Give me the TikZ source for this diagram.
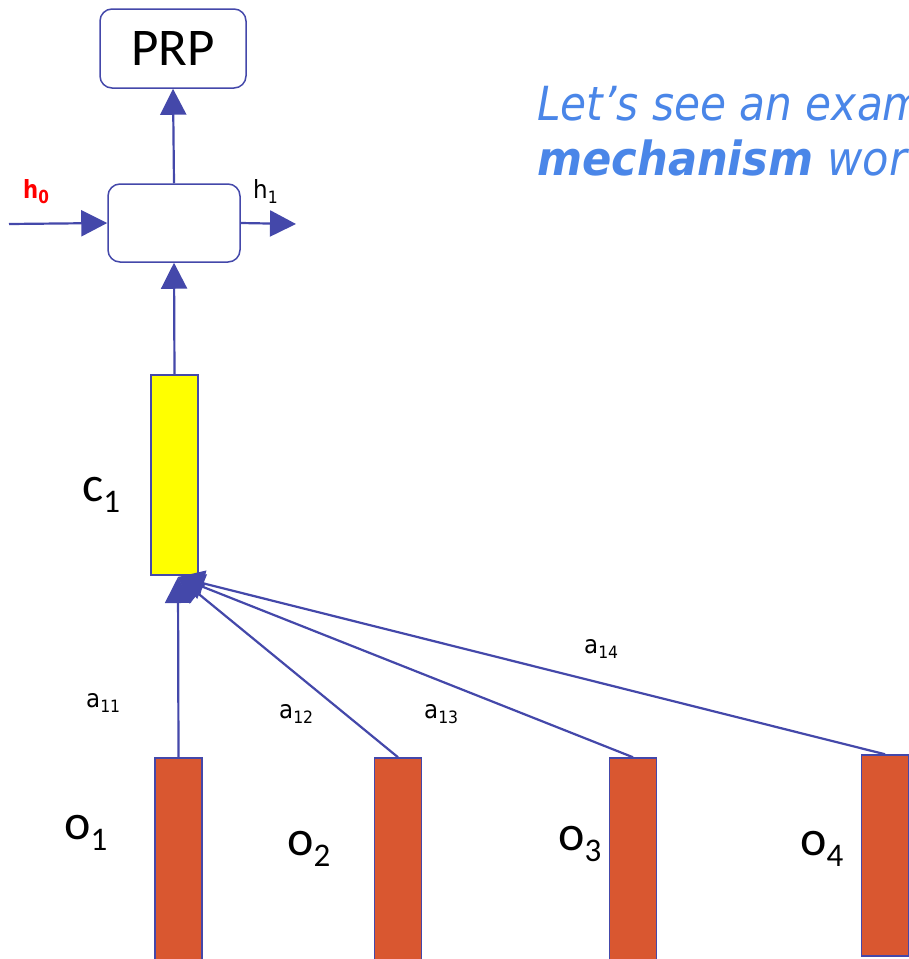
\documentclass[tikz,border=0pt]{standalone}
\usepackage{fontspec}
\usepackage{graphicx}
\setmainfont{DejaVu Sans}
\newfontfamily\calfont{Carlito}
\usetikzlibrary{arrows.meta}
\definecolor{lineblue}{RGB}{68,72,170}
\definecolor{titleblue}{RGB}{74,134,232}
\definecolor{obox}{RGB}{217,87,48}
\definecolor{hred}{RGB}{255,0,0}
\definecolor{cyellow}{RGB}{255,255,0}
\newcommand\biglab[2]{{\calfont\fontsize{50}{50}\selectfont #1\raisebox{-11pt}{\fontsize{33}{33}\selectfont #2}}}
\newcommand\smlab[2]{{\fontsize{25}{25}\selectfont\scalebox{0.92}[1]{#1\raisebox{-5pt}{\fontsize{17}{17}\selectfont #2}}}}
\begin{document}
\begin{tikzpicture}[x=1pt,y=-1pt,
  conn/.style={draw=lineblue, line width=2.2pt, -{Triangle[length=26pt,width=26pt]}},
  rbox/.style={draw=lineblue, line width=1.5pt, rounded corners=12pt, fill=white, inner sep=0pt},
  vecbox/.style={draw=lineblue, line width=1.5pt, inner sep=0pt, minimum width=47pt},
  lab/.style={inner sep=0pt, anchor=base west},
  titletext/.style={inner sep=0pt, anchor=base west, text=titleblue}]
\useasboundingbox (0,0) rectangle (909,959);
\clip (0,0) rectangle (909,959);
\fill[white] (0,0) rectangle (909,959);

% boxes
\node[rbox, minimum width=146pt, minimum height=79pt] (prp) at (173,48.5)
  {\calfont\fontsize{53}{53}\selectfont PRP};
\node[rbox, minimum width=132pt, minimum height=78pt] (cell) at (174,223) {};
\node[vecbox, fill=cyellow, minimum height=200pt] (c1) at (174.5,475) {};
\node[vecbox, fill=obox, minimum height=210pt] (o1) at (178.5,863) {};
\node[vecbox, fill=obox, minimum height=210pt] (o2) at (398,863) {};
\node[vecbox, fill=obox, minimum height=210pt] (o3) at (633,863) {};
\node[vecbox, fill=obox, minimum height=201pt] (o4) at (885,855.5) {};

% connectors
\coordinate (h0s) at (9,224);
\coordinate (h1e) at (296,224);
\coordinate (ctip) at (178,577);
\draw[conn] (cell.north) -- (prp.south);
\draw[conn] (c1.north) -- (cell.south);
\draw[conn] (h0s) -- (cell.west);
\draw[conn] (cell.east) -- (h1e);
\draw[conn] (o1.north) -- (ctip);
\draw[conn] (o2.north) -- (ctip);
\draw[conn] (o3.north) -- (ctip);
\draw[conn] (o4.north) -- (ctip);

% labels
\node[lab, text=hred] (h0) at (23,198)
  {\fontsize{25}{25}\selectfont\bfseries\scalebox{0.85}[1]{h\raisebox{-5pt}{\fontsize{18}{18}\selectfont 0}}};
\node[lab] (h1) at (253,198) {\smlab{h}{1}};
\node[lab] (c1l) at (82,501) {\biglab{c}{1}};
\node[lab] (o1l) at (64,839) {\biglab{o}{1}};
\node[lab] (o2l) at (287,855) {\biglab{o}{2}};
\node[lab] (o3l) at (558,850) {\biglab{o}{3}};
\node[lab] (o4l) at (800,855) {\biglab{o}{4}};
\node[lab] (a11) at (86,707) {\smlab{a}{11}};
\node[lab] (a12) at (279,718) {\smlab{a}{12}};
\node[lab] (a13) at (424,718) {\smlab{a}{13}};
\node[lab] (a14) at (584,653) {\smlab{a}{14}};

% title
\node[titletext] (t1) at (537,120)
  {\fontsize{47}{47}\selectfont\itshape\scalebox{0.9}[1]{Let’s see an exam}};
\node[titletext] (t2) at (537,175)
  {\fontsize{47}{47}\selectfont\itshape\scalebox{0.92}[1]{\bfseries mechanism\mdseries{} wor}};
\end{tikzpicture}
\end{document}
